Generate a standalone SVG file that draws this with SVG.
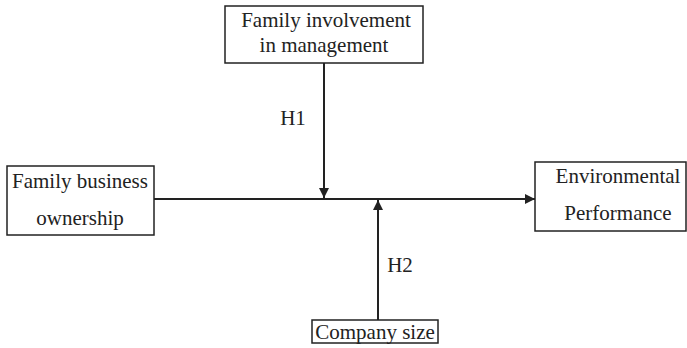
<svg xmlns="http://www.w3.org/2000/svg" width="687" height="348" viewBox="0 0 687 348">
<style>
.box{fill:#fff;stroke:#222;stroke-width:1.5}
.t{font-family:'Liberation Serif','Times New Roman',Times,serif;font-size:21px;fill:#222;text-anchor:middle}
.c{stroke:#222;stroke-width:2;fill:none}
</style>
<defs>
<marker id="ah" viewBox="0 0 10 10" refX="10" refY="5" markerWidth="10" markerHeight="10" markerUnits="userSpaceOnUse" orient="auto">
<path d="M0,0 L10,5 L0,10 z" fill="#222"/>
</marker>
</defs>
<rect width="687" height="348" fill="#fff"/>
<g id="connectors">
<line class="c" x1="154" y1="199" x2="535" y2="199" marker-end="url(#ah)"/>
<line class="c" x1="324" y1="63" x2="324" y2="198" marker-end="url(#ah)"/>
<line class="c" x1="378" y1="320" x2="378" y2="200" marker-end="url(#ah)"/>
<text class="t" x="293" y="125">H1</text>
<text class="t" x="400" y="272">H2</text>
</g>
<g id="n_involvement">
<rect class="box" x="225" y="6" width="198" height="57"/>
<text class="t" x="326" y="27">Family involvement</text>
<text class="t" x="324" y="52">in management</text>
</g>
<g id="n_ownership">
<rect class="box" x="7" y="166" width="147" height="69"/>
<text class="t" x="80" y="188">Family business</text>
<text class="t" x="80" y="225">ownership</text>
</g>
<g id="n_performance">
<rect class="box" x="535" y="162" width="151" height="69"/>
<text class="t" x="618" y="183">Environmental</text>
<text class="t" x="618" y="220">Performance</text>
</g>
<g id="n_size">
<rect class="box" x="312" y="320" width="126" height="23"/>
<text class="t" x="375" y="339">Company size</text>
</g>
</svg>
